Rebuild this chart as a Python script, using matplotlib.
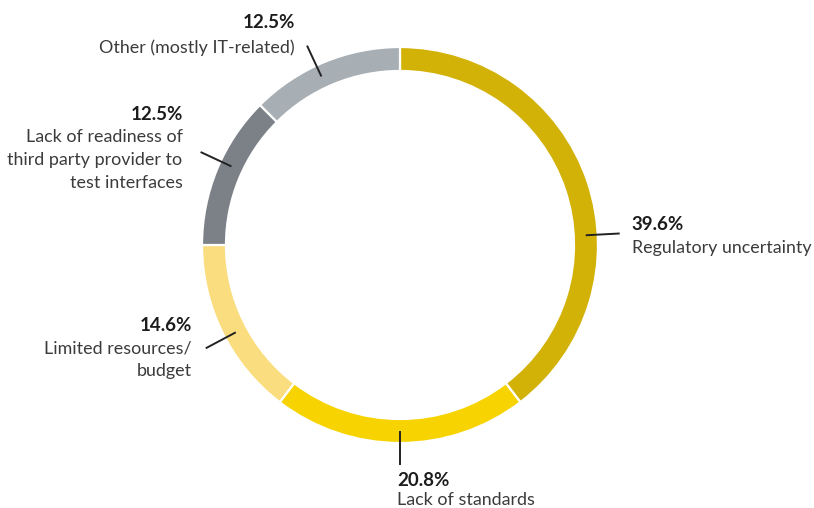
import matplotlib
matplotlib.use("Agg")
import matplotlib.pyplot as plt
import numpy as np

# ——— data ———
categories = [
    "Regulatory uncertainty",
    "Lack of standards",
    "Limited resources/\nbudget",
    "Lack of readiness of\nthird party provider to\ntest interfaces",
    "Other (mostly IT-related)",
]
shares = [39.6, 20.8, 14.6, 12.5, 12.5]
colors = ["#D3B208", "#F7D302", "#FADD7E", "#7C8188", "#A7AEB4"]

# ——— layout (pixel space, y down) ———
W, H = 814, 508
cx, cy = 400, 245
r_out, ring_w = 198, 24
# leader angle, degrees clockwise from 12 o'clock
leader_ang = [87, 180, 242, 295, 335]
# text anchor offset from leader end, alignment, pct-line offset
text_dx = [12, -3, -14, -18, -12]
pct_dy = [-9, 15, -23, -38, -23]
name_dy = [15, 35, 0, -15, 2]
halign = ["left", "left", "right", "right", "right"]
pitch = 23

plt.rcParams["font.family"] = ["Lato", "DejaVu Sans"]

fig = plt.figure(figsize=(W / 100, H / 100), dpi=100)
ax = fig.add_axes([0, 0, 1, 1])

ax.pie(shares, colors=colors, radius=r_out, center=(cx, cy),
       startangle=-90, counterclock=True,
       wedgeprops=dict(width=ring_w, edgecolor="white", linewidth=1.6))

ax.set_xlim(0, W)
ax.set_ylim(H, 0)
ax.set_aspect("equal")
ax.axis("off")

r_mid = r_out - ring_w / 2
r_end = 220
for i, name in enumerate(categories):
    a = np.deg2rad(leader_ang[i])
    x0, y0 = cx + r_mid * np.sin(a), cy - r_mid * np.cos(a)
    x1, y1 = cx + r_end * np.sin(a), cy - r_end * np.cos(a)
    ax.plot([x0, x1], [y0, y1], color="#222222", lw=1.4, solid_capstyle="butt")
    tx = x1 + text_dx[i]
    ax.text(tx, y1 + pct_dy[i], f"{shares[i]:.1f}%", ha=halign[i], va="center",
            fontsize=13.5, fontweight="bold", color="#1c1c1c")
    for k, line in enumerate(name.split("\n")):
        ax.text(tx, y1 + name_dy[i] + k * pitch, line, ha=halign[i], va="center",
                fontsize=12.9, color="#3b3b3b")

fig.savefig("out.png", dpi=100)
